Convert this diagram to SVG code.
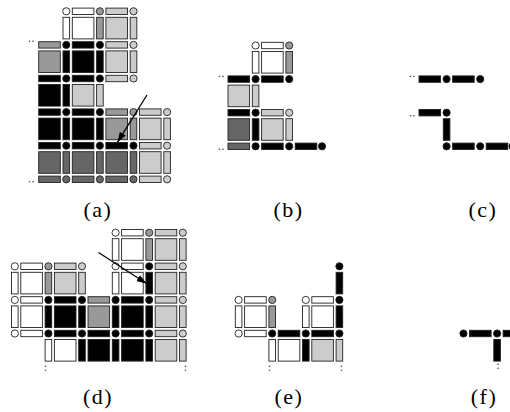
<svg xmlns="http://www.w3.org/2000/svg" width="510" height="412" viewBox="0 0 510 412">
<style>
use{stroke:#222;stroke-width:0.9}
.w{fill:#fff}.l{fill:#ccc}.m{fill:#999}.d{fill:#666}.k{fill:#000}
.dot{fill:#444}
.lbl{font-family:"Liberation Serif","DejaVu Serif",serif;font-size:22px;text-anchor:middle;fill:#000;letter-spacing:1.5px}
.arr{stroke:#000;stroke-width:1.3;fill:none}
</style>
<defs>
<rect id="h" x="6" y="-3.2" width="21.6" height="6.4"/>
<rect id="v" x="-3.3" y="6" width="6.6" height="21.6"/>
<rect id="s" x="6" y="6" width="21.6" height="21.6"/>
<circle id="o" r="3.6"/>
<marker id="ah" markerUnits="userSpaceOnUse" markerWidth="10" markerHeight="7" refX="10" refY="3.5" orient="auto">
<path d="M0,0 L10,3.5 L0,7 z" fill="#000"/>
</marker>
</defs>
<rect width="510" height="412" fill="#fff"/>

<g id="panel-a" transform="translate(32.7,11.3)">
<use href="#o" x="33.6" y="0" class="w"/><use href="#h" x="33.6" y="0" class="w"/><use href="#o" x="67.2" y="0" class="m"/><use href="#h" x="67.2" y="0" class="l"/><use href="#o" x="100.8" y="0" class="l"/>
<use href="#v" x="33.6" y="0" class="w"/><use href="#s" x="33.6" y="0" class="w"/><use href="#v" x="67.2" y="0" class="m"/><use href="#s" x="67.2" y="0" class="l"/><use href="#v" x="100.8" y="0" class="l"/>
<use href="#h" x="0" y="33.6" class="m"/><use href="#o" x="33.6" y="33.6" class="k"/><use href="#h" x="33.6" y="33.6" class="k"/><use href="#o" x="67.2" y="33.6" class="k"/><use href="#h" x="67.2" y="33.6" class="l"/><use href="#o" x="100.8" y="33.6" class="l"/>
<use href="#s" x="0" y="33.6" class="m"/><use href="#v" x="33.6" y="33.6" class="k"/><use href="#s" x="33.6" y="33.6" class="k"/><use href="#v" x="67.2" y="33.6" class="k"/><use href="#s" x="67.2" y="33.6" class="l"/><use href="#v" x="100.8" y="33.6" class="l"/>
<use href="#h" x="0" y="67.2" class="k"/><use href="#o" x="33.6" y="67.2" class="k"/><use href="#h" x="33.6" y="67.2" class="k"/><use href="#o" x="67.2" y="67.2" class="k"/><use href="#h" x="67.2" y="67.2" class="l"/><use href="#o" x="100.8" y="67.2" class="l"/>
<use href="#s" x="0" y="67.2" class="k"/><use href="#v" x="33.6" y="67.2" class="k"/><use href="#s" x="33.6" y="67.2" class="l"/><use href="#v" x="67.2" y="67.2" class="l"/>
<use href="#h" x="0" y="100.8" class="k"/><use href="#o" x="33.6" y="100.8" class="k"/><use href="#h" x="33.6" y="100.8" class="k"/><use href="#o" x="67.2" y="100.8" class="k"/><use href="#h" x="67.2" y="100.8" class="m"/><use href="#o" x="100.8" y="100.8" class="m"/><use href="#h" x="100.8" y="100.8" class="l"/><use href="#o" x="134.4" y="100.8" class="l"/>
<use href="#s" x="0" y="100.8" class="k"/><use href="#v" x="33.6" y="100.8" class="k"/><use href="#s" x="33.6" y="100.8" class="k"/><use href="#v" x="67.2" y="100.8" class="k"/><use href="#s" x="67.2" y="100.8" class="m"/><use href="#v" x="100.8" y="100.8" class="m"/><use href="#s" x="100.8" y="100.8" class="l"/><use href="#v" x="134.4" y="100.8" class="l"/>
<use href="#h" x="0" y="134.4" class="k"/><use href="#o" x="33.6" y="134.4" class="k"/><use href="#h" x="33.6" y="134.4" class="k"/><use href="#o" x="67.2" y="134.4" class="k"/><use href="#h" x="67.2" y="134.4" class="k"/><use href="#o" x="100.8" y="134.4" class="k"/><use href="#h" x="100.8" y="134.4" class="l"/><use href="#o" x="134.4" y="134.4" class="l"/>
<use href="#s" x="0" y="134.4" class="d"/><use href="#v" x="33.6" y="134.4" class="d"/><use href="#s" x="33.6" y="134.4" class="d"/><use href="#v" x="67.2" y="134.4" class="d"/><use href="#s" x="67.2" y="134.4" class="d"/><use href="#v" x="100.8" y="134.4" class="d"/><use href="#s" x="100.8" y="134.4" class="l"/><use href="#v" x="134.4" y="134.4" class="l"/>
<use href="#h" x="0" y="168" class="d"/><use href="#o" x="33.6" y="168" class="d"/><use href="#h" x="33.6" y="168" class="d"/><use href="#o" x="67.2" y="168" class="d"/><use href="#h" x="67.2" y="168" class="d"/><use href="#o" x="100.8" y="168" class="d"/><use href="#h" x="100.8" y="168" class="l"/><use href="#o" x="134.4" y="168" class="l"/>
<circle class="dot" cx="-3.2" cy="30" r="0.8"/><circle class="dot" cx="0.3" cy="30" r="0.8"/>
<circle class="dot" cx="-3.2" cy="170.5" r="0.8"/><circle class="dot" cx="0.3" cy="170.5" r="0.8"/>
</g>

<g id="panel-b" transform="translate(222,45.5)">
<use href="#o" x="33.6" y="0" class="w"/><use href="#h" x="33.6" y="0" class="w"/><use href="#o" x="67.2" y="0" class="m"/>
<use href="#v" x="33.6" y="0" class="w"/><use href="#s" x="33.6" y="0" class="w"/><use href="#v" x="67.2" y="0" class="m"/>
<use href="#h" x="0" y="33.6" class="k"/><use href="#o" x="33.6" y="33.6" class="k"/><use href="#h" x="33.6" y="33.6" class="k"/><use href="#o" x="67.2" y="33.6" class="k"/>
<use href="#s" x="0" y="33.6" class="l"/><use href="#v" x="33.6" y="33.6" class="l"/>
<use href="#h" x="0" y="67.2" class="k"/><use href="#o" x="33.6" y="67.2" class="k"/><use href="#h" x="33.6" y="67.2" class="l"/><use href="#o" x="67.2" y="67.2" class="l"/>
<use href="#s" x="0" y="67.2" class="d"/><use href="#v" x="33.6" y="67.2" class="k"/><use href="#s" x="33.6" y="67.2" class="l"/><use href="#v" x="67.2" y="67.2" class="l"/>
<use href="#h" x="0" y="100.8" class="d"/><use href="#o" x="33.6" y="100.8" class="k"/><use href="#h" x="33.6" y="100.8" class="k"/><use href="#o" x="67.2" y="100.8" class="k"/><use href="#h" x="67.2" y="100.8" class="k"/><use href="#o" x="100" y="100.8" class="k"/>
<circle class="dot" cx="-2.5" cy="31" r="0.8"/><circle class="dot" cx="1" cy="31" r="0.8"/>
<circle class="dot" cx="-2.5" cy="103.8" r="0.8"/><circle class="dot" cx="1" cy="103.8" r="0.8"/>
</g>

<g id="panel-c" transform="translate(413,79.1)">
<use href="#h" x="0" y="0" class="k"/><use href="#o" x="33.6" y="0" class="k"/><use href="#h" x="33.6" y="0" class="k"/><use href="#o" x="67.2" y="0" class="k"/>
<use href="#h" x="0" y="33.6" class="k"/><use href="#o" x="33.6" y="33.6" class="k"/>
<use href="#v" x="33.6" y="33.6" class="k"/>
<use href="#o" x="33.6" y="67.2" class="k"/><use href="#h" x="33.6" y="67.2" class="k"/><use href="#o" x="67.2" y="67.2" class="k"/><use href="#h" x="67.2" y="67.2" class="k"/><use href="#o" x="99.5" y="67.2" class="k"/>
<circle class="dot" cx="-2.5" cy="-2.6" r="0.8"/><circle class="dot" cx="1" cy="-2.6" r="0.8"/>
<circle class="dot" cx="-2.5" cy="36.6" r="0.8"/><circle class="dot" cx="1" cy="36.6" r="0.8"/>
</g>

<g id="panel-d" transform="translate(14.8,232.7)">
<use href="#o" x="100.8" y="0" class="w"/><use href="#h" x="100.8" y="0" class="w"/><use href="#o" x="134.4" y="0" class="m"/><use href="#h" x="134.4" y="0" class="l"/><use href="#o" x="168" y="0" class="l"/>
<use href="#v" x="100.8" y="0" class="w"/><use href="#s" x="100.8" y="0" class="w"/><use href="#v" x="134.4" y="0" class="m"/><use href="#s" x="134.4" y="0" class="l"/><use href="#v" x="168" y="0" class="l"/>
<use href="#o" x="0" y="33.6" class="w"/><use href="#h" x="0" y="33.6" class="w"/><use href="#o" x="33.6" y="33.6" class="m"/><use href="#h" x="33.6" y="33.6" class="l"/><use href="#o" x="67.2" y="33.6" class="l"/><use href="#o" x="100.8" y="33.6" class="w"/><use href="#h" x="100.8" y="33.6" class="w"/><use href="#o" x="134.4" y="33.6" class="k"/><use href="#h" x="134.4" y="33.6" class="l"/><use href="#o" x="168" y="33.6" class="l"/>
<use href="#v" x="0" y="33.6" class="w"/><use href="#s" x="0" y="33.6" class="w"/><use href="#v" x="33.6" y="33.6" class="m"/><use href="#s" x="33.6" y="33.6" class="l"/><use href="#v" x="67.2" y="33.6" class="l"/><use href="#v" x="100.8" y="33.6" class="w"/><use href="#s" x="100.8" y="33.6" class="w"/><use href="#v" x="134.4" y="33.6" class="k"/><use href="#s" x="134.4" y="33.6" class="l"/><use href="#v" x="168" y="33.6" class="l"/>
<use href="#o" x="0" y="67.2" class="w"/><use href="#h" x="0" y="67.2" class="w"/><use href="#o" x="33.6" y="67.2" class="k"/><use href="#h" x="33.6" y="67.2" class="k"/><use href="#o" x="67.2" y="67.2" class="k"/><use href="#h" x="67.2" y="67.2" class="m"/><use href="#o" x="100.8" y="67.2" class="k"/><use href="#h" x="100.8" y="67.2" class="k"/><use href="#o" x="134.4" y="67.2" class="k"/><use href="#h" x="134.4" y="67.2" class="l"/><use href="#o" x="168" y="67.2" class="l"/>
<use href="#v" x="0" y="67.2" class="w"/><use href="#s" x="0" y="67.2" class="w"/><use href="#v" x="33.6" y="67.2" class="k"/><use href="#s" x="33.6" y="67.2" class="k"/><use href="#v" x="67.2" y="67.2" class="k"/><use href="#s" x="67.2" y="67.2" class="m"/><use href="#v" x="100.8" y="67.2" class="k"/><use href="#s" x="100.8" y="67.2" class="k"/><use href="#v" x="134.4" y="67.2" class="k"/><use href="#s" x="134.4" y="67.2" class="l"/><use href="#v" x="168" y="67.2" class="l"/>
<use href="#o" x="0" y="100.8" class="w"/><use href="#h" x="0" y="100.8" class="w"/><use href="#o" x="33.6" y="100.8" class="k"/><use href="#h" x="33.6" y="100.8" class="k"/><use href="#o" x="67.2" y="100.8" class="k"/><use href="#h" x="67.2" y="100.8" class="k"/><use href="#o" x="100.8" y="100.8" class="k"/><use href="#h" x="100.8" y="100.8" class="k"/><use href="#o" x="134.4" y="100.8" class="k"/><use href="#h" x="134.4" y="100.8" class="l"/><use href="#o" x="168" y="100.8" class="l"/>
<use href="#v" x="33.6" y="100.8" class="w"/><use href="#s" x="33.6" y="100.8" class="w"/><use href="#v" x="67.2" y="100.8" class="k"/><use href="#s" x="67.2" y="100.8" class="k"/><use href="#v" x="100.8" y="100.8" class="k"/><use href="#s" x="100.8" y="100.8" class="k"/><use href="#v" x="134.4" y="100.8" class="k"/><use href="#s" x="134.4" y="100.8" class="l"/><use href="#v" x="168" y="100.8" class="l"/>
<circle class="dot" cx="30.7" cy="133.5" r="0.8"/><circle class="dot" cx="30.7" cy="137.5" r="0.8"/>
<circle class="dot" cx="170.7" cy="133.5" r="0.8"/><circle class="dot" cx="170.7" cy="137.5" r="0.8"/>
</g>

<g id="panel-e" transform="translate(238.6,232.7)">
<use href="#o" x="100.8" y="33.6" class="k"/>
<use href="#v" x="100.8" y="33.6" class="k"/>
<use href="#o" x="0" y="67.2" class="w"/><use href="#h" x="0" y="67.2" class="w"/><use href="#o" x="33.6" y="67.2" class="m"/><use href="#o" x="67.2" y="67.2" class="w"/><use href="#h" x="67.2" y="67.2" class="w"/><use href="#o" x="100.8" y="67.2" class="k"/>
<use href="#v" x="0" y="67.2" class="w"/><use href="#s" x="0" y="67.2" class="w"/><use href="#v" x="33.6" y="67.2" class="m"/><use href="#v" x="67.2" y="67.2" class="w"/><use href="#s" x="67.2" y="67.2" class="w"/><use href="#v" x="100.8" y="67.2" class="k"/>
<use href="#o" x="0" y="100.8" class="w"/><use href="#h" x="0" y="100.8" class="w"/><use href="#o" x="33.6" y="100.8" class="k"/><use href="#h" x="33.6" y="100.8" class="k"/><use href="#o" x="67.2" y="100.8" class="k"/><use href="#h" x="67.2" y="100.8" class="k"/><use href="#o" x="100.8" y="100.8" class="k"/>
<use href="#v" x="33.6" y="100.8" class="w"/><use href="#s" x="33.6" y="100.8" class="w"/><use href="#v" x="67.2" y="100.8" class="k"/><use href="#s" x="67.2" y="100.8" class="l"/><use href="#v" x="100.8" y="100.8" class="l"/>
<circle class="dot" cx="30.9" cy="133.5" r="0.8"/><circle class="dot" cx="30.9" cy="137.5" r="0.8"/>
<circle class="dot" cx="102.9" cy="133.5" r="0.8"/><circle class="dot" cx="102.9" cy="137.5" r="0.8"/>
</g>

<g id="panel-f" transform="translate(463.5,232.7)">
<use href="#o" x="0" y="100.8" class="k"/><use href="#h" x="0" y="100.8" class="k"/><use href="#o" x="33.6" y="100.8" class="k"/><use href="#h" x="33.6" y="100.8" class="k"/>
<use href="#v" x="33.6" y="100.8" class="k"/>
<circle class="dot" cx="34.5" cy="131.5" r="0.8"/><circle class="dot" cx="34.5" cy="135.5" r="0.8"/>
</g>

<g id="connectors">
<line class="arr" x1="147" y1="95" x2="117.5" y2="142.2" marker-end="url(#ah)"/>
<line class="arr" x1="98.5" y1="252.5" x2="146.5" y2="283.5" marker-end="url(#ah)"/>
</g>

<g id="labels">
<text class="lbl" x="98" y="217">(a)</text>
<text class="lbl" x="288.5" y="217">(b)</text>
<text class="lbl" x="483" y="217">(c)</text>
<text class="lbl" x="98" y="404">(d)</text>
<text class="lbl" x="289" y="404">(e)</text>
<text class="lbl" x="484" y="404">(f)</text>
</g>
</svg>
